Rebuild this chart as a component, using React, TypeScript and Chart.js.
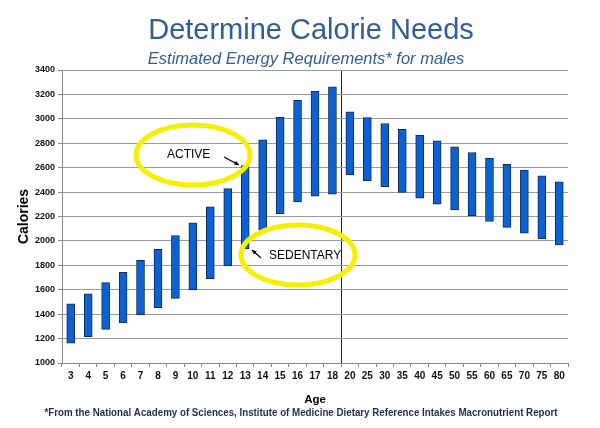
import React, { useEffect, useRef } from "react";
import { Chart, registerables } from "chart.js";

Chart.register(...registerables);

const ages: string[] = [
  "3", "4", "5", "6", "7", "8", "9", "10", "11", "12", "13", "14", "15", "16", "17", "18",
  "20", "25", "30", "35", "40", "45", "50", "55", "60", "65", "70", "75", "80",
];

const sedentary: number[] = [
  1162, 1215, 1275, 1328, 1393, 1453, 1530, 1601, 1691, 1798, 1935, 2090, 2223, 2320, 2366, 2383,
  2540, 2493, 2445, 2397, 2350, 2302, 2254, 2207, 2159, 2111, 2064, 2016, 1968,
];

const active: number[] = [
  1485, 1566, 1658, 1742, 1840, 1931, 2043, 2149, 2279, 2428, 2618, 2829, 3013, 3152, 3226, 3263,
  3057, 3010, 2962, 2914, 2867, 2819, 2771, 2724, 2676, 2628, 2581, 2533, 2485,
];

const yMin = 1000;
const yMax = 3400;
const yStep = 200;

const titleText = "Determine Calorie Needs";
const subtitleText = "Estimated Energy Requirements* for males";
const footnoteText =
  "*From the National Academy of Sciences, Institute of Medicine Dietary Reference Intakes Macronutrient Report";
const yTitle = "Calories";
const xTitle = "Age";
const activeLabel = "ACTIVE";
const sedentaryLabel = "SEDENTARY";

function drawArrow(ctx: CanvasRenderingContext2D, x1: number, y1: number, x2: number, y2: number) {
  ctx.save();
  ctx.strokeStyle = "#000";
  ctx.fillStyle = "#000";
  ctx.lineWidth = 1.2;
  ctx.beginPath();
  ctx.moveTo(x1, y1);
  ctx.lineTo(x2, y2);
  ctx.stroke();
  const ang = Math.atan2(y2 - y1, x2 - x1);
  const len = 5;
  ctx.beginPath();
  ctx.moveTo(x2, y2);
  ctx.lineTo(x2 - len * Math.cos(ang - 0.45), y2 - len * Math.sin(ang - 0.45));
  ctx.lineTo(x2 - len * Math.cos(ang + 0.45), y2 - len * Math.sin(ang + 0.45));
  ctx.closePath();
  ctx.fill();
  ctx.restore();
}

const decorPlugin = {
  id: "decor",
  afterDraw(chart: any) {
    const ctx: CanvasRenderingContext2D = chart.ctx;
    ctx.save();
    ctx.textAlign = "center";
    ctx.textBaseline = "middle";
    ctx.fillStyle = "#2d5f94";
    ctx.font = "29px 'Liberation Sans', Arial, sans-serif";
    ctx.fillText(titleText, 311, 31);
    ctx.font = "italic 16.5px 'Liberation Sans', Arial, sans-serif";
    ctx.fillText(subtitleText, 306, 59);
    ctx.fillStyle = "#1c2f4f";
    ctx.font = "bold 10.5px 'Liberation Sans', Arial, sans-serif";
    ctx.fillText(footnoteText, 301, 413, 513);

    ctx.strokeStyle = "#f4f000";
    ctx.lineWidth = 5;
    ctx.beginPath();
    ctx.ellipse(193, 155, 57, 30, 0, 0, Math.PI * 2);
    ctx.stroke();
    ctx.beginPath();
    ctx.ellipse(298, 255, 57, 30, 0, 0, Math.PI * 2);
    ctx.stroke();

    ctx.fillStyle = "#000";
    ctx.font = "12px 'Liberation Sans', Arial, sans-serif";
    ctx.textAlign = "left";
    ctx.fillText(activeLabel, 167, 155);
    ctx.fillText(sedentaryLabel, 269, 256);
    ctx.restore();

    drawArrow(ctx, 224, 157, 239, 165);
    drawArrow(ctx, 261, 258, 252, 250);
  },
};

export default function App() {
  const canvasRef = useRef<HTMLCanvasElement | null>(null);

  useEffect(() => {
    if (!canvasRef.current) return;
    const data = ages.map((_, i) => [sedentary[i], active[i]]);
    const chart = new Chart(canvasRef.current, {
      type: "bar",
      data: {
        labels: ages,
        datasets: [
          {
            label: "Calories",
            data: data as any,
            backgroundColor: "#0c62d4",
            borderColor: "#0f2a52",
            borderWidth: 1,
            borderSkipped: false,
            barThickness: 8,
          },
        ],
      },
      options: {
        responsive: false,
        animation: false,
        devicePixelRatio: 1,
        layout: { padding: { left: 0, right: 32, top: 70, bottom: 21 } },
        plugins: {
          legend: { display: false },
          title: { display: false },
          tooltip: { enabled: false },
        },
        scales: {
          x: {
            afterFit: (s: any) => {
              s.height = 44;
            },
            grid: {
              offset: true,
              drawOnChartArea: true,
              color: (c: any) => (c.index === 16 ? "#222" : "rgba(0,0,0,0)"),
              tickColor: "#888",
              tickLength: 4,
              lineWidth: 1,
            },
            border: { color: "#888", width: 1 },
            ticks: {
              autoSkip: false,
              maxRotation: 0,
              padding: 3,
              color: "#111",
              font: { family: "'Liberation Sans', Arial, sans-serif", size: 10, weight: "bold" },
            },
            title: {
              display: true,
              text: xTitle,
              color: "#000",
              padding: { top: 0, bottom: 0 },
              font: { family: "'Liberation Sans', Arial, sans-serif", size: 11.5, weight: "bold" },
            },
          },
          y: {
            min: yMin,
            max: yMax,
            afterFit: (s: any) => {
              s.width = 62;
            },
            grid: {
              color: "#9a9a9a",
              tickColor: "#888",
              tickLength: 4,
              lineWidth: 1,
            },
            border: { color: "#888", width: 1 },
            ticks: {
              stepSize: yStep,
              padding: 3,
              color: "#111",
              callback: (v: any) => String(v),
              font: { family: "'Liberation Sans', Arial, sans-serif", size: 9, weight: "bold" },
            },
            title: {
              display: true,
              text: yTitle,
              color: "#000",
              padding: { top: 15.6, bottom: 0 },
              font: { family: "'Liberation Sans', Arial, sans-serif", size: 14, weight: "bold" },
            },
          },
        },
      },
      plugins: [decorPlugin],
    });
    return () => chart.destroy();
  }, []);

  return (
    <div style={{ position: "fixed", left: 0, top: 0, width: 600, height: 428, background: "#fff" }}>
      <canvas ref={canvasRef} width={600} height={428} style={{ display: "block" }} />
    </div>
  );
}
